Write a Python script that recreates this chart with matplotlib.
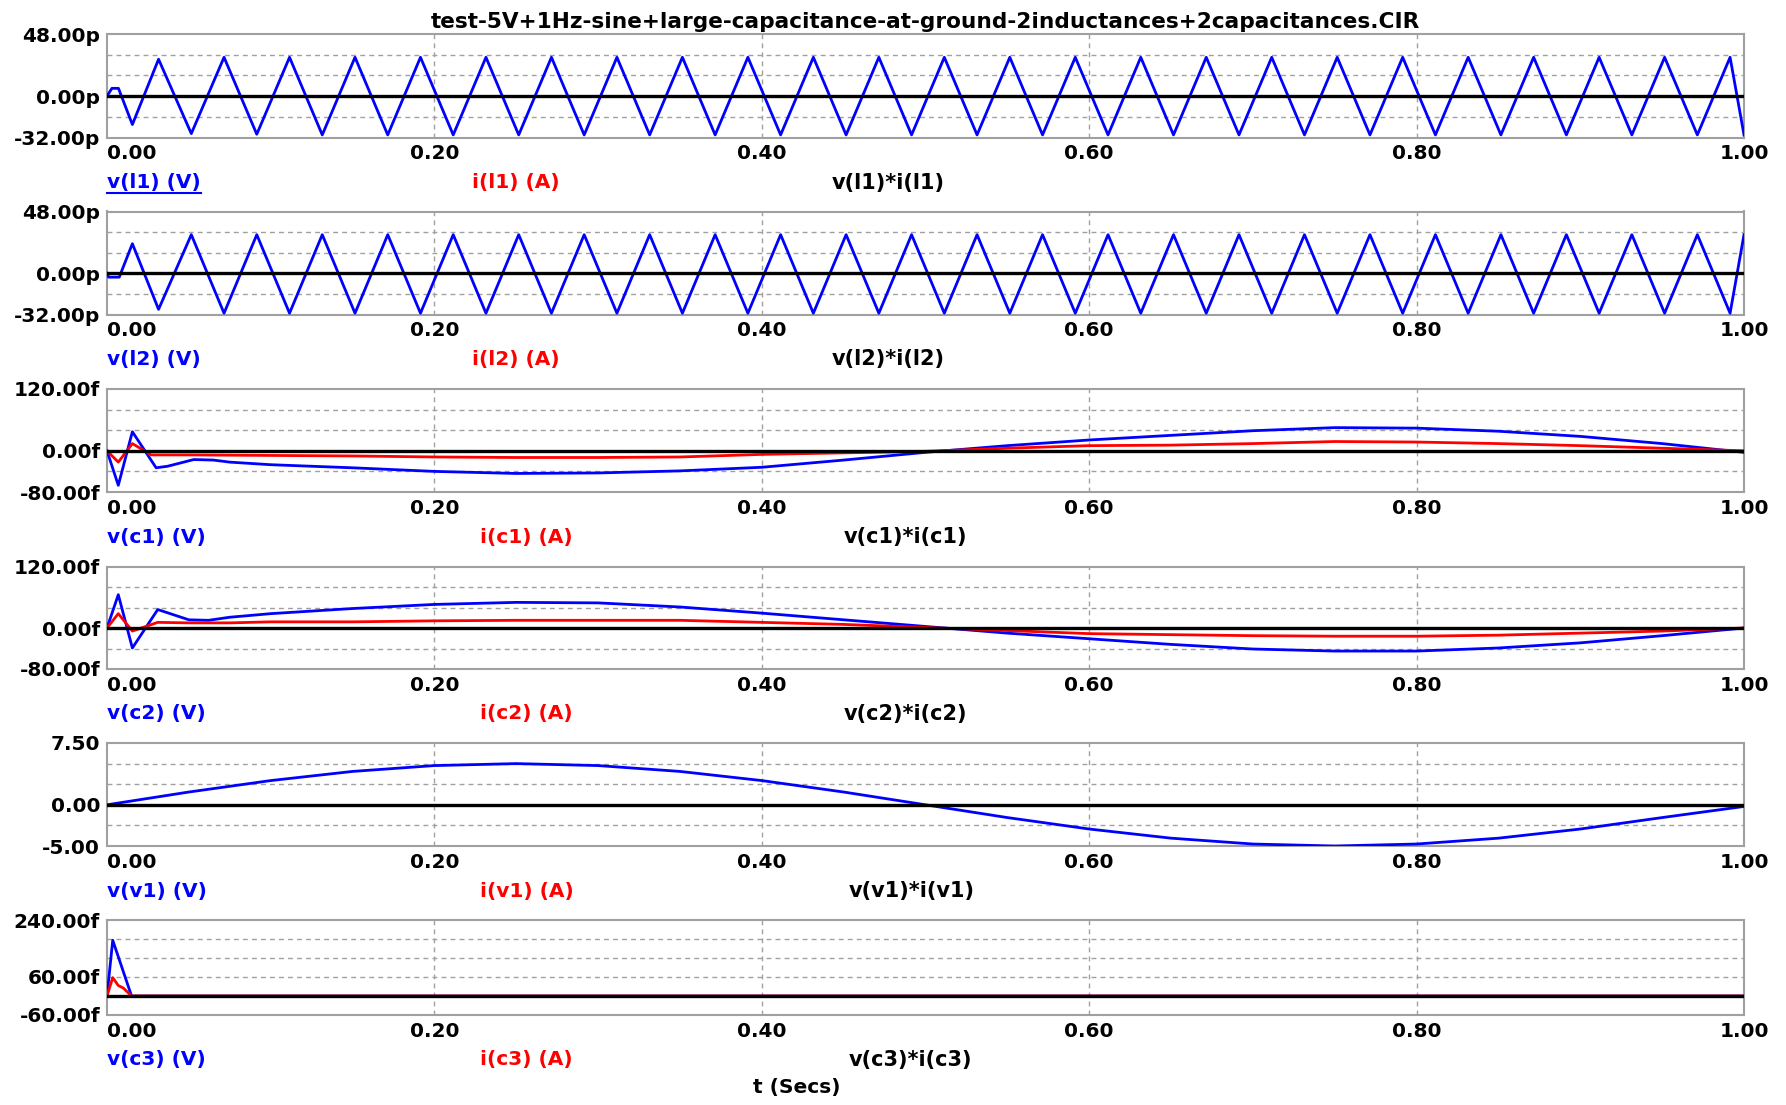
import matplotlib.pyplot as plt
from matplotlib.lines import Line2D

plt.rcParams['font.family'] = ['DejaVu Sans']
plt.rcParams['font.weight'] = 'bold'

title = "test-5V+1Hz-sine+large-capacitance-at-ground-2inductances+2capacitances.CIR"
x_ticks = [0.0, 0.2, 0.4, 0.6, 0.8, 1.0]
x_tick_labels = ["0.00", "0.20", "0.40", "0.60", "0.80", "1.00"]

# sim time points for the two inductor traces
t_l = [0.0, 0.003, 0.007, 0.0155,
       0.0315, 0.0515, 0.0715, 0.0915, 0.1115, 0.1315, 0.1515, 0.1715, 0.1915, 0.2115,
       0.2315, 0.2515, 0.2715, 0.2915, 0.3115, 0.3315, 0.3515, 0.3715, 0.3915, 0.4115,
       0.4315, 0.4515, 0.4715, 0.4915, 0.5115, 0.5315, 0.5515, 0.5715, 0.5915, 0.6115,
       0.6315, 0.6515, 0.6715, 0.6915, 0.7115, 0.7315, 0.7515, 0.7715, 0.7915, 0.8115,
       0.8315, 0.8515, 0.8715, 0.8915, 0.9115, 0.9315, 0.9515, 0.9715, 0.9915, 1.0]
v_l1 = [0, 6, 6, -22,
        28.5, -29, 30, -29.5, 30, -30, 30, -30, 30, -30,
        30, -30, 30, -30, 30, -30, 30, -30, 30, -30,
        30, -30, 30, -30, 30, -30, 30, -30, 30, -30,
        30, -30, 30, -30, 30, -30, 30, -30, 30, -30,
        30, -30, 30, -30, 30, -30, 30, -30, 30, -30]
t_l2 = [0.0, 0.001, 0.0075, 0.0155] + t_l[4:]
v_l2 = [0, -3, -3, 23,
        -28, 30, -31, 30, -31, 30, -31, 30, -31, 30,
        -31, 30, -31, 30, -31, 30, -31, 30, -31, 30,
        -31, 30, -31, 30, -31, 30, -31, 30, -31, 30,
        -31, 30, -31, 30, -31, 30, -31, 30, -31, 30,
        -31, 30, -31, 30, -31, 30, -31, 30, -31, 30]

# capacitor c1 (fF)
t_vc1 = [0, 0.0069, 0.0155, 0.030, 0.037, 0.053, 0.065, 0.075, 0.1, 0.15, 0.2, 0.25, 0.3,
         0.35, 0.4, 0.45, 0.5, 0.55, 0.6, 0.65, 0.7, 0.75, 0.8, 0.85, 0.9, 0.95, 1.0]
v_c1 = [0, -67, 37, -33, -30, -17, -18, -22, -27, -33, -40, -44, -43,
        -39, -32, -18, -3, 10, 21, 30, 39, 45, 44, 38, 28, 14, -3]
t_ic1 = [0, 0.0069, 0.0155, 0.027, 0.05, 0.1, 0.15, 0.2, 0.25, 0.3, 0.35, 0.4, 0.45,
         0.5, 0.55, 0.6, 0.65, 0.7, 0.75, 0.8, 0.85, 0.9, 0.95, 1.0]
i_c1 = [0, -22, 14, -8, -8, -9, -10, -12, -13, -13, -12, -7, -4,
        -1, 5, 10, 11, 14, 18, 17, 14, 10, 5, 0]

# capacitor c2 (fF)
t_c2 = [0, 0.0069, 0.0155, 0.031, 0.05, 0.062, 0.075, 0.1, 0.15, 0.2, 0.25, 0.3, 0.35,
        0.4, 0.45, 0.5, 0.55, 0.6, 0.65, 0.7, 0.75, 0.8, 0.85, 0.9, 0.95, 1.0]
v_c2 = [0, 65, -39, 36, 16, 15, 21, 28, 38, 46, 50, 49, 41,
        29, 16, 3, -10, -21, -32, -41, -45, -45, -39, -29, -15, 0]
i_c2 = [0, 28, -6, 11, 10, 10, 10, 12, 12, 14, 15, 15, 15,
        11, 7, 1, -5, -11, -13, -15, -16, -16, -14, -10, -6, 0]

# source v1 (V)
t_v1 = [0, 0.05, 0.1, 0.15, 0.2, 0.25, 0.3, 0.35, 0.4, 0.45, 0.5,
        0.55, 0.6, 0.65, 0.7, 0.75, 0.8, 0.85, 0.9, 0.95, 1.0]
v_v1 = [0, 1.55, 2.94, 4.05, 4.76, 5.0, 4.76, 4.05, 2.94, 1.55, 0,
        -1.55, -2.94, -4.05, -4.76, -5.0, -4.76, -4.05, -2.94, -1.55, -0.2]

# capacitor c3 (fF)
t_vc3 = [0, 0.0035, 0.015, 1.0]
v_c3 = [0, 176, 0, 0]
t_ic3 = [0, 0.0035, 0.0069, 0.01, 0.015, 1.0]
i_c3 = [0, 58, 33, 25, 0, 0]

# traces that stay on the zero line
t_flat = [0, 1.0]
zero = [0, 0]

names = ["l1", "l2", "c1", "c2", "v1", "c3"]
blue_t = [t_l, t_l2, t_vc1, t_c2, t_v1, t_vc3]
blue_v = [v_l1, v_l2, v_c1, v_c2, v_v1, v_c3]
red_t = [t_flat, t_flat, t_ic1, t_c2, t_flat, t_ic3]
red_v = [zero, zero, i_c1, i_c2, zero, i_c3]
y_lims = [(-32, 48), (-32, 48), (-80, 120), (-80, 120), (-5, 7.5), (-60, 240)]
y_ticks = [[-32, 0, 48], [-32, 0, 48], [-80, 0, 120], [-80, 0, 120], [-5, 0, 7.5], [-60, 60, 240]]
y_tick_labels = [["-32.00p", "0.00p", "48.00p"], ["-32.00p", "0.00p", "48.00p"],
                 ["-80.00f", "0.00f", "120.00f"], ["-80.00f", "0.00f", "120.00f"],
                 ["-5.00", "0.00", "7.50"], ["-60.00f", "60.00f", "240.00f"]]
y_grid = [[-16, 16, 32], [-16, 16, 32], [-40, 40, 80], [-40, 40, 80], [-2.5, 2.5, 5], [60, 120, 180]]

# axes boxes in pixels (top, bottom) of the 1786x1105 image
W, H = 1786, 1105
boxes = [(34, 137.5), (211.5, 314.5), (389, 492), (566.5, 669), (743, 846), (920, 1015)]
label_x = [(364.5, 724.5), (364.5, 724.5), (372.5, 737), (372.5, 737), (372.5, 741.5), (372.5, 741.5)]

fig = plt.figure(figsize=(W / 100, H / 100), dpi=100)
grey = '#a0a0a0'
fs = 14.5
axes = []
for k in range(6):
    top, bot = boxes[k]
    ax = fig.add_axes([107 / W, 1 - bot / H, 1637 / W, (bot - top) / H])
    axes.append(ax)
    for g in y_grid[k]:
        ax.axhline(g, color=grey, lw=1, ls=(0, (3.5, 3)), zorder=1)
    for g in x_ticks[1:-1]:
        ax.axvline(g, color=grey, lw=1, ls=(0, (3.5, 3)), zorder=1)
    ax.plot(blue_t[k], blue_v[k], color='#0000ff', lw=2.0, zorder=3)
    ax.plot(red_t[k], red_v[k], color='#ff0000', lw=2.0, zorder=4)
    ax.plot(t_flat, zero, color='black', lw=2.4, zorder=5)
    ax.set_xlim(0, 1)
    ax.set_ylim(*y_lims[k])
    ax.set_xticks(x_ticks)
    ax.set_xticklabels(x_tick_labels, fontsize=fs, fontweight='bold')
    ax.get_xticklabels()[0].set_horizontalalignment('left')
    ax.set_yticks(y_ticks[k])
    ax.set_yticklabels(y_tick_labels[k], fontsize=fs, fontweight='bold')
    ax.tick_params(length=0, pad=5)
    for s in ax.spines.values():
        s.set_color(grey)
        s.set_linewidth(1.5)
    n = names[k]
    ax.annotate(f"v({n}) (V)", xy=(0, 0), xycoords='axes fraction', xytext=(0, -45),
                textcoords='offset pixels', ha='left', va='center', color='#0000ff', fontsize=fs)
    ax.annotate(f"i({n}) (A)", xy=(0, 0), xycoords='axes fraction', xytext=(label_x[k][0], -45),
                textcoords='offset pixels', ha='left', va='center', color='#ff0000', fontsize=fs)
    ax.annotate(f"v({n})*i({n})", xy=(0, 0), xycoords='axes fraction', xytext=(label_x[k][1], -45),
                textcoords='offset pixels', ha='left', va='center', color='black', fontsize=fs + 0.5)

axes[0].set_title(title, fontsize=15.6, fontweight='bold', pad=4)

# underline of the selected trace label
fig.canvas.draw()
r = fig.canvas.get_renderer()
sel = axes[0].texts[0]
bb = sel.get_window_extent(r)
fig.add_artist(Line2D([bb.x0 / W, bb.x1 / W], [(bb.y0 - 1) / H, (bb.y0 - 1) / H],
                      color='#0000ff', lw=1.5))

fig.text(797 / W, 1 - 1088 / H, "t (Secs)", ha='center', va='center', fontsize=fs)

plt.savefig("out.png", dpi=100)
